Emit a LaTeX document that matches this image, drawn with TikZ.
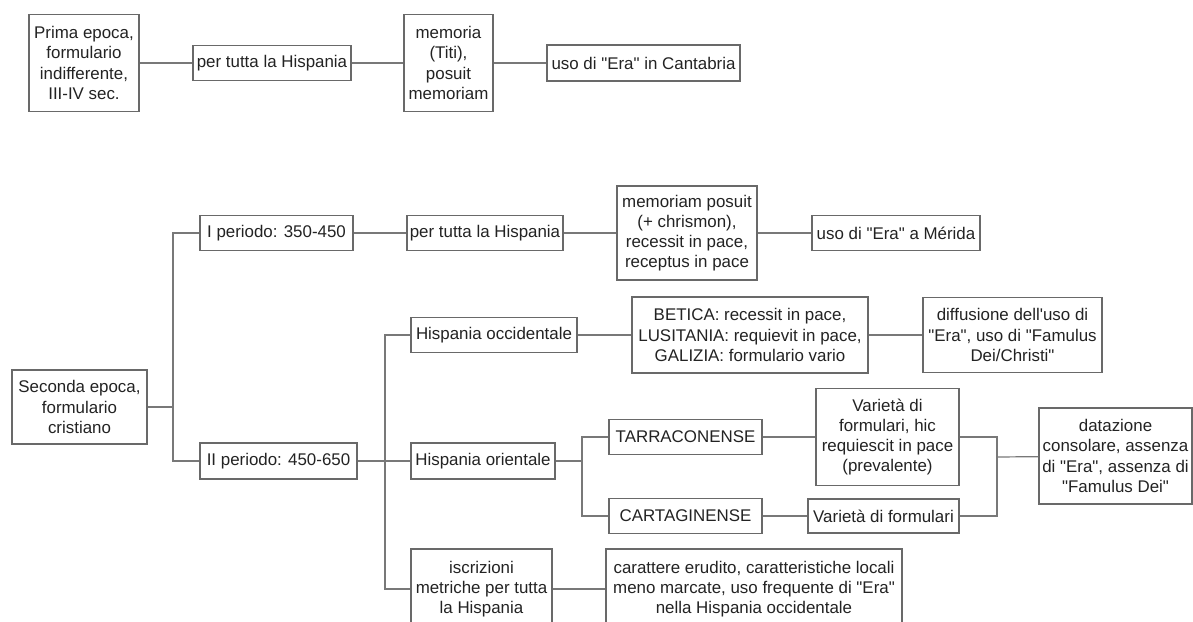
\documentclass[tikz,border=0pt]{standalone}
\usepackage{fontspec}
\setmainfont{Liberation Sans}[Ligatures=TeXOff]
\definecolor{boxgray}{RGB}{105,105,105}
\definecolor{linegray}{RGB}{120,120,120}
\definecolor{txtgray}{RGB}{35,35,35}
\tikzset{
	box/.style={draw=boxgray, line width=1.2pt, align=center, inner sep=0pt, text=txtgray, font=\fontsize{16.9}{20.2}\selectfont},
	link/.style={draw=linegray, line width=1.2pt}
}

\begin{document}
\begin{tikzpicture}[x=1pt,y=-1pt]
	%page
	\fill[white] (0,0) rectangle (1193,621);
	\useasboundingbox (0,0) rectangle (1193,621);
	%first epoch
	\node[box,minimum width=110,minimum height=97] (prima) at (84,63) {Prima epoca,\\formulario\\indifferente,\\III-IV sec.};
	\node[box,minimum width=158,minimum height=35] (tutta1) at (272,63) {per tutta la Hispania};
	\node[box,minimum width=89,minimum height=97] (memoria) at (448.5,63) {memoria\\(Titi),\\posuit\\memoriam};
	\node[box,minimum width=193,minimum height=36] (cantabria) at (643.5,63) {uso di "Era" in Cantabria};
	%second epoch
	\node[box,minimum width=135,minimum height=74] (seconda) at (79.5,407) {Seconda epoca,\\formulario\\cristiano};
	\node[box,minimum width=153,minimum height=35] (per1) at (276.5,233) {I periodo: 350-450};
	\node[box,minimum width=156,minimum height=35] (tutta2) at (485,233) {per tutta la Hispania};
	\node[box,minimum width=140,minimum height=94] (posuit) at (687,233) {memoriam posuit\\(+ chrismon),\\recessit in pace,\\receptus in pace};
	\node[box,minimum width=168,minimum height=35] (merida) at (896,233) {uso di "Era" a Mérida};
	\node[box,minimum width=157,minimum height=36] (per2) at (278.5,461) {II periodo: 450-650};
	%II periodo branches
	\node[box,minimum width=166,minimum height=35] (occ) at (494,335) {Hispania occidentale};
	\node[box,minimum width=236,minimum height=76] (betica) at (750,335) {BETICA: recessit in pace,\\LUSITANIA: requievit in pace,\\GALIZIA: formulario vario};
	\node[box,minimum width=179,minimum height=75] (diffusione) at (1012.5,335) {diffusione dell'uso di\\"Era", uso di "Famulus\\Dei/Christi"};
	\node[box,minimum width=144,minimum height=36] (orient) at (483,461) {Hispania orientale};
	\node[box,minimum width=153,minimum height=35] (tarra) at (685.5,437) {TARRACONENSE};
	\node[box,minimum width=153,minimum height=35] (carta) at (685.5,516) {CARTAGINENSE};
	\node[box,minimum width=143,minimum height=97] (varhic) at (887.5,437) {Varietà di\\formulari, hic\\requiescit in pace\\(prevalente)};
	\node[box,minimum width=151,minimum height=34] (varform) at (883.5,516) {Varietà di formulari};
	\node[box,minimum width=153,minimum height=96] (datazione) at (1115.5,456) {datazione\\consolare, assenza\\di "Era", assenza di\\"Famulus Dei"};
	\node[box,minimum width=141,minimum height=80] (iscr) at (481.5,589) {iscrizioni\\metriche per tutta\\la Hispania};
	\node[box,minimum width=296,minimum height=80] (carattere) at (754,589) {carattere erudito, caratteristiche locali\\meno marcate, uso frequente di "Era"\\nella Hispania occidentale};
	%junctions
	\coordinate (j1) at (173,407);
	\coordinate (j2) at (385,461);
	\coordinate (j3) at (582,461);
	\coordinate (j4) at (997,457);
	%straight links
	\foreach \a/\b in {prima/tutta1,tutta1/memoria,memoria/cantabria,per1/tutta2,tutta2/posuit,posuit/merida,occ/betica,betica/diffusione,tarra/varhic,carta/varform,iscr/carattere}
	\draw[link] (\a) -- (\b);
	%tree links
	\draw[link] (seconda) -- (j1);
	\draw[link] (per1) -| (j1) |- (per2);
	\draw[link] (per2) -- (j2) -- (orient);
	\draw[link] (occ) -| (j2) |- (iscr);
	\draw[link] (orient) -- (j3);
	\draw[link] (tarra) -| (j3) |- (carta);
	\draw[link] (varhic) -| (j4) |- (varform);
	\draw[link] (j4) -- (datazione);
\end{tikzpicture}
\end{document}
